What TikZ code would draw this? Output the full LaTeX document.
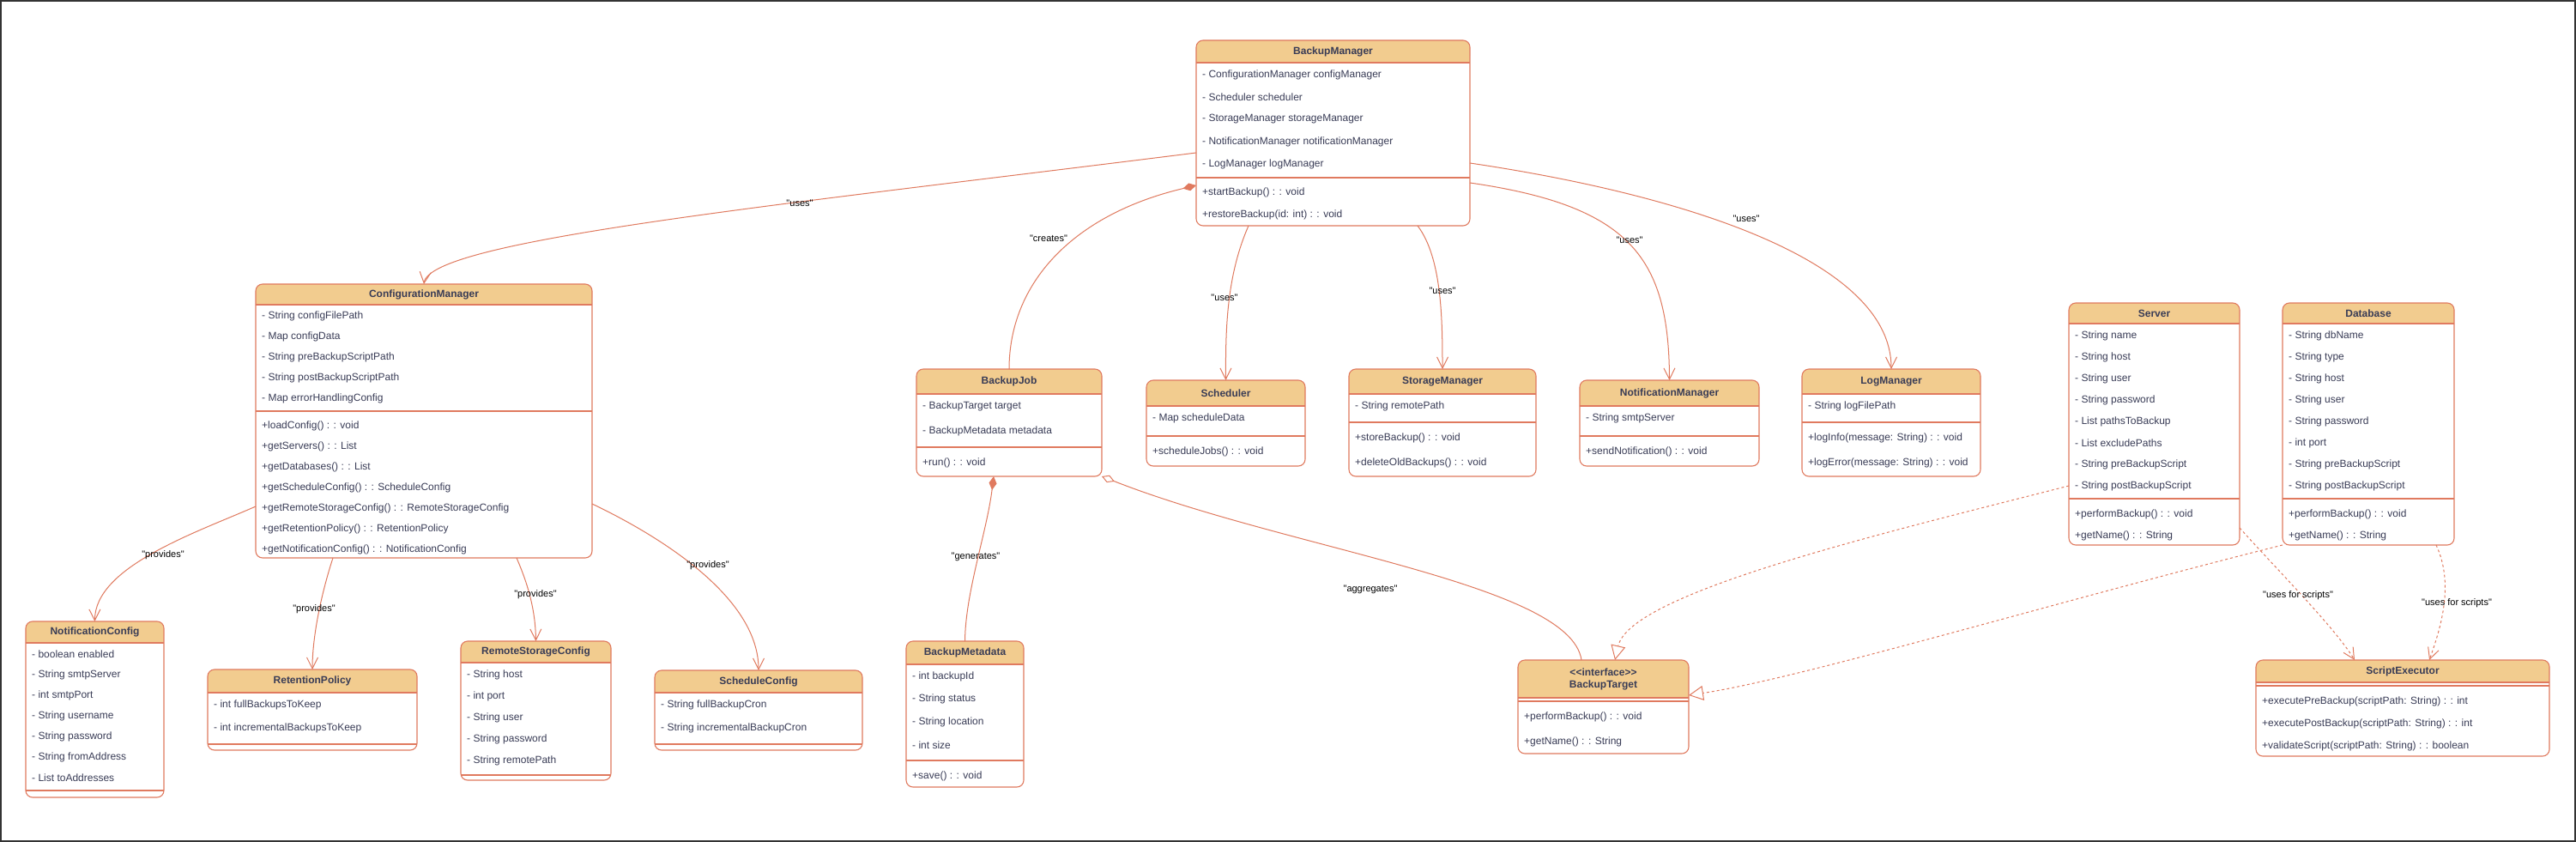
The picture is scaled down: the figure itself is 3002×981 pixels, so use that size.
\documentclass[tikz,border=0pt]{standalone}
\usepackage{fontspec}
\setmainfont{Liberation Sans}[Ligatures=TeXOff]
\usepackage{xcolor}
\usepackage{tikz}
\usetikzlibrary{arrows.meta,positioning,calc}
\definecolor{umlfill}{HTML}{F2CC8F}
\definecolor{umlline}{HTML}{E07A5F}
\definecolor{umltext}{HTML}{393C56}
\tikzset{
  classbody/.style={fill=white, inner sep=0pt, outer sep=0pt},
  classline/.style={draw=umlline, line width=1.1pt},
  classtitle/.style={font=\fontsize{12}{14}\selectfont\bfseries, text=umltext, align=center, inner sep=0pt},
  rowtext/.style={font=\fontsize{12}{14}\selectfont, text=umltext, anchor=west, inner sep=0pt},
  edgelabel/.style={font=\fontsize{11}{13}\selectfont, text=black, inner sep=1pt},
  uses/.style={draw=umlline, line width=1pt, -{Straight Barb[length=13pt,width=13pt]}},
  usesdash/.style={uses, dash pattern=on 3pt off 3pt},
  realizes/.style={draw=umlline, line width=1pt, dash pattern=on 3pt off 3pt, -{Triangle[open, length=17pt, width=17pt, fill=white]}},
  composes/.style={draw=umlline, line width=1pt, {Diamond[length=16pt, width=9pt, fill=umlline]}-},
  aggregates/.style={draw=umlline, line width=1pt, {Diamond[open, length=16pt, width=9pt, fill=white]}-},
}
% class frame with header: id, left, top, width, height, header height, title
\newcommand{\UmlClass}[7]{%
  \node[classbody, anchor=north west, minimum width=#4pt, minimum height=#5pt] (#1) at (#2,#3) {};
  \fill[umlfill, rounded corners=8pt] (#1.north west) rectangle ($(#1.north east)+(0,#6)$);
  \fill[umlfill] ($(#1.north west)+(0,#6-9)$) rectangle ($(#1.north east)+(0,#6)$);
  \draw[classline] ($(#1.north west)+(0,#6)$) -- ($(#1.north east)+(0,#6)$);
  \draw[classline, rounded corners=8pt] (#1.north west) rectangle (#1.south east);
  \node[classtitle] (#1-title) at ($(#1.north)+(0,#6/2)$) {#7};
}
% member rows: box, prefix, first y, step, list
\newcommand{\UmlRows}[5]{%
  \foreach \rowtxt [count=\k] in {#5} {
    \pgfmathsetmacro{\rowy}{#3+(\k-1)*#4}
    \node[rowtext, xshift=7pt] (#1-#2\k) at (#1.west |- 0,\rowy) {\rowtxt};
  }
}
\newcommand{\UmlSep}[2]{\draw[classline] (#1.west |- 0,#2) -- (#1.east |- 0,#2);}

\begin{document}
\begin{tikzpicture}[x=1pt,y=-1pt]
  \useasboundingbox (0,0) rectangle (3002,981);
  \fill[white] (0,0) rectangle (3002,981);
  \draw[black!80, line width=2pt] (1,1) rectangle (3001,980);

  % manager classes
  \UmlClass{bm}{1394}{47}{319}{216}{26}{BackupManager}
  \UmlRows{bm}{a}{87}{26}{- ConfigurationManager configManager, - Scheduler scheduler, - StorageManager storageManager, - NotificationManager notificationManager, - LogManager logManager}
  \UmlSep{bm}{207}
  \UmlRows{bm}{m}{224}{26}{+startBackup() : : void, +restoreBackup(id: int) : : void}

  \UmlClass{cm}{298}{331}{392}{319}{24}{ConfigurationManager}
  \UmlRows{cm}{a}{368}{24}{- String configFilePath, - Map configData, - String preBackupScriptPath, - String postBackupScriptPath, - Map errorHandlingConfig}
  \UmlSep{cm}{479}
  \UmlRows{cm}{m}{496}{24}{+loadConfig() : : void, +getServers() : : List, +getDatabases() : : List, +getScheduleConfig() : : ScheduleConfig, +getRemoteStorageConfig() : : RemoteStorageConfig, +getRetentionPolicy() : : RetentionPolicy, +getNotificationConfig() : : NotificationConfig}

  \UmlClass{bj}{1068}{430}{216}{125}{29}{BackupJob}
  \UmlRows{bj}{a}{473}{29}{- BackupTarget target, - BackupMetadata metadata}
  \UmlSep{bj}{521}
  \UmlRows{bj}{m}{539}{29}{+run() : : void}

  \UmlClass{sch}{1336}{443}{185}{100}{30}{Scheduler}
  \UmlRows{sch}{a}{487}{29}{- Map scheduleData}
  \UmlSep{sch}{508}
  \UmlRows{sch}{m}{526}{29}{+scheduleJobs() : : void}

  \UmlClass{sm}{1572}{430}{218}{125}{29}{StorageManager}
  \UmlRows{sm}{a}{473}{29}{- String remotePath}
  \UmlSep{sm}{492}
  \UmlRows{sm}{m}{510}{29}{+storeBackup() : : void, +deleteOldBackups() : : void}

  \UmlClass{nm}{1841}{443}{209}{100}{30}{NotificationManager}
  \UmlRows{nm}{a}{487}{29}{- String smtpServer}
  \UmlSep{nm}{508}
  \UmlRows{nm}{m}{526}{29}{+sendNotification() : : void}

  \UmlClass{lm}{2100}{430}{208}{125}{29}{LogManager}
  \UmlRows{lm}{a}{473}{29}{- String logFilePath}
  \UmlSep{lm}{492}
  \UmlRows{lm}{m}{510}{29}{+logInfo(message: String) : : void, +logError(message: String) : : void}

  % config classes
  \UmlClass{nc}{30}{724}{161}{205}{25}{NotificationConfig}
  \UmlRows{nc}{a}{762}{24}{- boolean enabled, - String smtpServer, - int smtpPort, - String username, - String password, - String fromAddress, - List toAddresses}
  \UmlSep{nc}{921}

  \UmlClass{rp}{242}{780}{244}{94}{27}{RetentionPolicy}
  \UmlRows{rp}{a}{821}{27}{- int fullBackupsToKeep, - int incrementalBackupsToKeep}
  \UmlSep{rp}{867}

  \UmlClass{rs}{537}{747}{175}{162}{25}{RemoteStorageConfig}
  \UmlRows{rs}{a}{786}{25}{- String host, - int port, - String user, - String password, - String remotePath}
  \UmlSep{rs}{903}

  \UmlClass{sc}{763}{781}{242}{93}{26}{ScheduleConfig}
  \UmlRows{sc}{a}{821}{27}{- String fullBackupCron, - String incrementalBackupCron}
  \UmlSep{sc}{867}

  \UmlClass{md}{1056}{747}{137}{170}{27}{BackupMetadata}
  \UmlRows{md}{a}{788}{26.7}{- int backupId, - String status, - String location, - int size}
  \UmlSep{md}{886}
  \UmlRows{md}{m}{904}{26}{+save() : : void}

  % targets
  \UmlClass{sv}{2411}{353}{199}{282}{24}{Server}
  \UmlRows{sv}{a}{391}{25}{- String name, - String host, - String user, - String password, - List pathsToBackup, - List excludePaths, - String preBackupScript, - String postBackupScript}
  \UmlSep{sv}{581}
  \UmlRows{sv}{m}{599}{25}{+performBackup() : : void, +getName() : : String}

  \UmlClass{db}{2660}{353}{200}{282}{24}{Database}
  \UmlRows{db}{a}{391}{25}{- String dbName, - String type, - String host, - String user, - String password, - int port, - String preBackupScript, - String postBackupScript}
  \UmlSep{db}{581}
  \UmlRows{db}{m}{599}{25}{+performBackup() : : void, +getName() : : String}

  \UmlClass{bt}{1769}{769}{199}{109}{44}{<<interface>>\\BackupTarget}
  \UmlSep{bt}{817}
  \UmlRows{bt}{m}{835}{29}{+performBackup() : : void, +getName() : : String}

  \UmlClass{se}{2629}{769}{342}{112}{26}{ScriptExecutor}
  \UmlSep{se}{799}
  \UmlRows{se}{m}{817}{26}{+executePreBackup(scriptPath: String) : : int, +executePostBackup(scriptPath: String) : : int, +validateScript(scriptPath: String) : : boolean}

  % uses
  \draw[uses] ($(bm.north west)+(0,131)$) .. controls (900,240) and (500,280) .. (cm.north);
  \draw[uses] ($(bm.south west)+(61,0)$) .. controls (1430,320) and (1428,380) .. (sch.north);
  \draw[uses] ($(bm.south west)+(258,0)$) .. controls (1680,300) and (1681,370) .. (sm.north);
  \draw[uses] ($(bm.north east)+(0,166)$) .. controls (1900,240) and (1945,300) .. (nm.north);
  \draw[uses] ($(bm.north east)+(0,143)$) .. controls (1950,225) and (2204,300) .. (lm.north);

  % provides
  \draw[uses] ($(cm.north west)+(0,259)$) .. controls (230,620) and (110,660) .. (nc.north);
  \draw[uses] ($(cm.south west)+(90,0)$) .. controls (375,690) and (364,740) .. (rp.north);
  \draw[uses] ($(cm.south west)+(304,0)$) .. controls (615,680) and (624,710) .. (rs.north);
  \draw[uses] ($(cm.north east)+(0,256)$) .. controls (780,630) and (884,700) .. (sc.north);

  % whole/part
  \draw[composes] ($(bm.north west)+(0,169)$) .. controls (1250,250) and (1176,330) .. (bj.north);
  \draw[composes] ($(bj.south)+(-18,0)$) .. controls (1150,620) and (1125,690) .. (md.north);
  \draw[aggregates] (bj.south east) .. controls (1500,640) and (1830,680) .. ($(bt.north west)+(74,0)$);

  % realization and scripts
  \draw[realizes] ($(sv.north west)+(0,213)$) .. controls (2200,620) and (1900,690) .. ($(bt.north west)+(113,0)$);
  \draw[realizes] (db.south west) .. controls (2400,700) and (2100,790) .. ($(bt.north east)+(0,41)$);
  \draw[usesdash] ($(sv.north east)+(0,262)$) .. controls (2650,660) and (2720,730) .. ($(se.north west)+(115,0)$);
  \draw[usesdash] ($(db.south west)+(179,0)$) .. controls (2860,680) and (2845,730) .. ($(se.north west)+(202,0)$);

  % labels
  \node[edgelabel] (l-cm) at (932,237) {"uses"};
  \node[edgelabel] (l-bj) at (1222,278) {"creates"};
  \node[edgelabel] (l-sch) at (1427,347) {"uses"};
  \node[edgelabel] (l-sm) at (1681,339) {"uses"};
  \node[edgelabel] (l-nm) at (1899,280) {"uses"};
  \node[edgelabel] (l-lm) at (2035,255) {"uses"};
  \node[edgelabel] (l-nc) at (190,647) {"provides"};
  \node[edgelabel] (l-rp) at (366,710) {"provides"};
  \node[edgelabel] (l-rs) at (624,693) {"provides"};
  \node[edgelabel] (l-sc) at (825,659) {"provides"};
  \node[edgelabel] (l-md) at (1137,649) {"generates"};
  \node[edgelabel] (l-bt) at (1597,687) {"aggregates"};
  \node[edgelabel] (l-se1) at (2678,694) {"uses for scripts"};
  \node[edgelabel] (l-se2) at (2863,703) {"uses for scripts"};
\end{tikzpicture}
\end{document}
